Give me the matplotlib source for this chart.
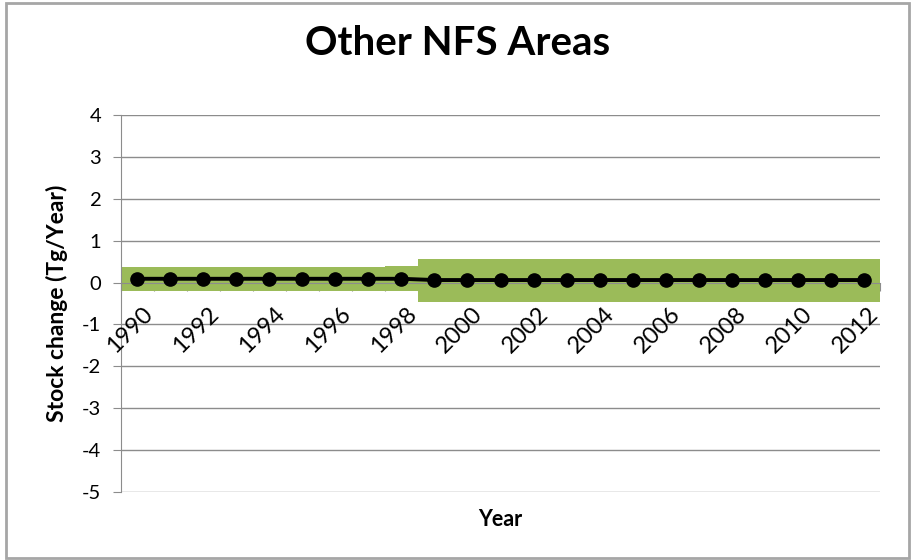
import matplotlib.pyplot as plt
from matplotlib.patches import Rectangle
from matplotlib.ticker import MultipleLocator

plt.rcParams["font.family"] = ["Lato", "DejaVu Sans"]
plt.rcParams["axes.unicode_minus"] = False

years = list(range(1990, 2013))
stock_change = [0.09, 0.09, 0.09, 0.09, 0.09, 0.09, 0.09, 0.09, 0.09,
                0.06, 0.06, 0.06, 0.06, 0.06, 0.06, 0.06, 0.06, 0.06,
                0.06, 0.06, 0.06, 0.06, 0.06]
lower_ci = [-0.19, -0.19, -0.19, -0.19, -0.19, -0.19, -0.19, -0.19, -0.20,
            -0.46, -0.46, -0.46, -0.46, -0.46, -0.46, -0.46, -0.46, -0.46,
            -0.46, -0.46, -0.46, -0.46, -0.46]
upper_ci = [0.36, 0.36, 0.36, 0.36, 0.36, 0.36, 0.36, 0.36, 0.39,
            0.57, 0.57, 0.57, 0.57, 0.57, 0.57, 0.57, 0.57, 0.57,
            0.57, 0.57, 0.57, 0.57, 0.57]

GRID = "#8c8c8c"
GREEN = "#9bbb59"

fig = plt.figure(figsize=(9.15, 5.6), dpi=100)
fig.patch.set_facecolor("white")
fig.patches.append(Rectangle((0.007, 0.004), 0.986, 0.99, transform=fig.transFigure,
                             fill=False, edgecolor="#a6a6a6", linewidth=2))
ax = fig.add_axes([0.132, 0.121, 0.830, 0.674])

x = list(range(len(years)))
heights = [u - l for u, l in zip(upper_ci, lower_ci)]
ax.bar(x, heights, bottom=lower_ci, width=1.0, color=GREEN, linewidth=0, zorder=2)
ax.plot(x, stock_change, color="black", linewidth=2.8, marker="o",
        markersize=9.5, zorder=4)

ax.set_xlim(-0.5, len(years) - 0.5)
ax.set_ylim(-5, 4)
ax.yaxis.set_major_locator(MultipleLocator(1))
ax.grid(axis="y", color=GRID, linewidth=1, zorder=0)
ax.set_axisbelow(True)

for s in ("top", "right"):
    ax.spines[s].set_visible(False)
ax.spines["left"].set_color(GRID)
ax.spines["bottom"].set_color(GRID)
ax.spines["bottom"].set_position(("data", 0))
ax.spines["bottom"].set_zorder(3)

ax.tick_params(axis="y", length=6, color=GRID, labelsize=14.5, pad=8)
ax.set_xticks([i + 0.5 for i in x[:-1]] + [-0.5, len(years) - 0.5])
ax.set_xticklabels([])
ax.tick_params(axis="x", length=6, color=GRID, direction="out")

for i, yr in zip(x, years):
    if yr % 2 == 0:
        ax.annotate(str(yr), xy=(i, 0), xytext=(3, -15), textcoords="offset points",
                    rotation=45, ha="right", va="top", rotation_mode="anchor",
                    fontsize=17, zorder=5)

ax.set_ylabel("Stock change (Tg/Year)", fontsize=16.5, fontweight="bold", labelpad=10)
ax.set_xlabel("Year", fontsize=15.5, fontweight="bold")
ax.xaxis.set_label_coords(0.5, -0.045)
fig.suptitle("Other NFS Areas", fontsize=29, fontweight="bold", y=0.955)

plt.savefig("out.png", dpi=100, facecolor="white")
plt.close()
